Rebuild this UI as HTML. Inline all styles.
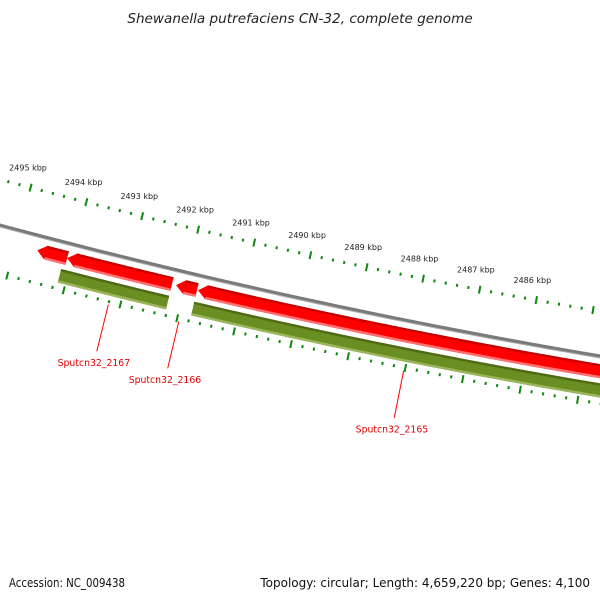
<!DOCTYPE html>
<html><head><meta charset="utf-8">
<style>
html,body{margin:0;padding:0;background:#fff;}
svg{display:block;}
text{font-family:"DejaVu Sans","Liberation Sans",sans-serif;}
</style></head>
<body>
<svg id="map" width="600" height="600" viewBox="0 0 600 600">
<rect width="600" height="600" fill="#fff"/>
<text x="300" y="23" text-anchor="middle" font-size="13.6" font-style="italic" fill="#222">Shewanella putrefaciens CN-32, complete genome</text>
<text x="9" y="587" font-size="12" fill="#111" textLength="116" lengthAdjust="spacingAndGlyphs">Accession: NC_009438</text>
<text x="590" y="587" text-anchor="end" font-size="12" fill="#111">Topology: circular; Length: 4,659,220 bp; Genes: 4,100</text>
</svg>
<script>
// data
const tickKbp = [2496, 2495, 2494, 2493, 2492, 2491, 2490, 2489, 2488, 2487, 2486, 2485];
const tickLabels = ["", "2495 kbp","2494 kbp","2493 kbp","2492 kbp","2491 kbp","2490 kbp","2489 kbp","2488 kbp","2487 kbp","2486 kbp",""];
const fwdStarts = [2494611, 2494080, 2492150, 2491761];
const fwdEnds   = [2494080, 2492221, 2491779, 2480000];
const revStarts = [2494133, 2491779];
const revEnds   = [2492221, 2480000];
const geneNames = ["Sputcn32_2167", "Sputcn32_2166", "Sputcn32_2165"];
const geneAnchors = [2493200, 2491960, 2488020];

// geometry
const NS = "http://www.w3.org/2000/svg";
const svg = document.getElementById('map');
const CX = 1674, CY = -6004, R0 = 6450;
const DEG = Math.PI/180;
function phi(bp){ return (102.29 + (bp - 2490000)/1000*0.515)*DEG; }
function P(bp, r){ const a = phi(bp); return [CX + r*Math.cos(a), CY + r*Math.sin(a)]; }
function arcPts(b1, b2, r){ const pts=[]; const n=60; for(let i=0;i<=n;i++){ pts.push(P(b1+(b2-b1)*i/n, r)); } return pts; }
function mk(tag, attrs){ const e=document.createElementNS(NS, tag); for(const k in attrs) e.setAttribute(k, attrs[k]); svg.appendChild(e); return e; }
function ptsStr(a){ return a.map(p=>p[0].toFixed(2)+','+p[1].toFixed(2)).join(' '); }

// backbone
let bb = mk('polyline', {points: ptsStr(arcPts(2500000, 2480000, R0+1.5)), fill:'none', stroke:'#b0b0b0', 'stroke-width':2});


let bb2 = mk('polyline', {points: ptsStr(arcPts(2500000, 2480000, R0)), fill:'none', stroke:'#7a7a7a', 'stroke-width':3});



// ticks
const RO = R0 - 44, RI = R0 + 47;
for (let i=0;i<tickKbp.length;i++){
  const k = tickKbp[i];
  for (let m=0;m<5;m++){
    const bp = k*1000 - m*200;
    const major = m===0;
    const len = major ? 8 : 3;
    [RO, RI].forEach((r, ri)=>{
      const a = P(bp, r - len/2), b = P(bp, r + len/2);
      const t = mk('line', {x1:a[0],y1:a[1],x2:b[0],y2:b[1],stroke:'#0a8a0a','stroke-width':2});
      
      
    });
  }
  if (!tickLabels[i]) continue;
  const lp = P(k*1000 + 120, RO - 16);
  const lab = mk('text', {x:lp[0], y:lp[1], 'text-anchor':'middle', 'font-size':8, fill:'#222'});
  lab.textContent = tickLabels[i];
  
  
}

// features
function band(s, e, r1, r2, arrow, fill, topC, botC, name){
  const head = arrow ? 150 : 0;
  const outer = arcPts(s - head, e, r1);
  const inner = arcPts(e, s - head, r2);
  let pts = outer.concat(inner);
  if (arrow) pts.push(P(s, (r1+r2)/2));
  const g = mk('polygon', {points: ptsStr(pts), fill: fill});
  
  
  const t = mk('polyline', {points: ptsStr(arcPts(s-head, e, r1+1.2)), fill:'none', stroke:topC, 'stroke-width':2.4});
  
  
  const b = mk('polyline', {points: ptsStr(arcPts(s-head, e, r2-1.2)), fill:'none', stroke:botC, 'stroke-width':2.4});
  
  
}
for (let i=0;i<fwdStarts.length;i++) band(fwdStarts[i], fwdEnds[i], R0+8, R0+22, true, '#ff0000', '#c80000', '#ff7070', 'red-feature');
for (let i=0;i<revStarts.length;i++) band(revStarts[i], revEnds[i], R0+27, R0+41, false, '#6b8e23', '#4f6b16', '#9bb55c', 'green-feature');

// gene labels
for (let i=0;i<geneNames.length;i++){
  const a = P(geneAnchors[i], R0 + 50), b = P(geneAnchors[i], R0 + 98);
  const l = mk('line', {x1:a[0],y1:a[1],x2:b[0],y2:b[1],stroke:'#ff0000','stroke-width':1});
  
  
  const tp = P(geneAnchors[i], R0 + 110);
  const t = mk('text', {x:tp[0], y:tp[1]+3, 'text-anchor':'middle', 'font-size':9.3, fill:'#e00000'});
  t.textContent = geneNames[i];
  
  
}
</script>
</body></html>
